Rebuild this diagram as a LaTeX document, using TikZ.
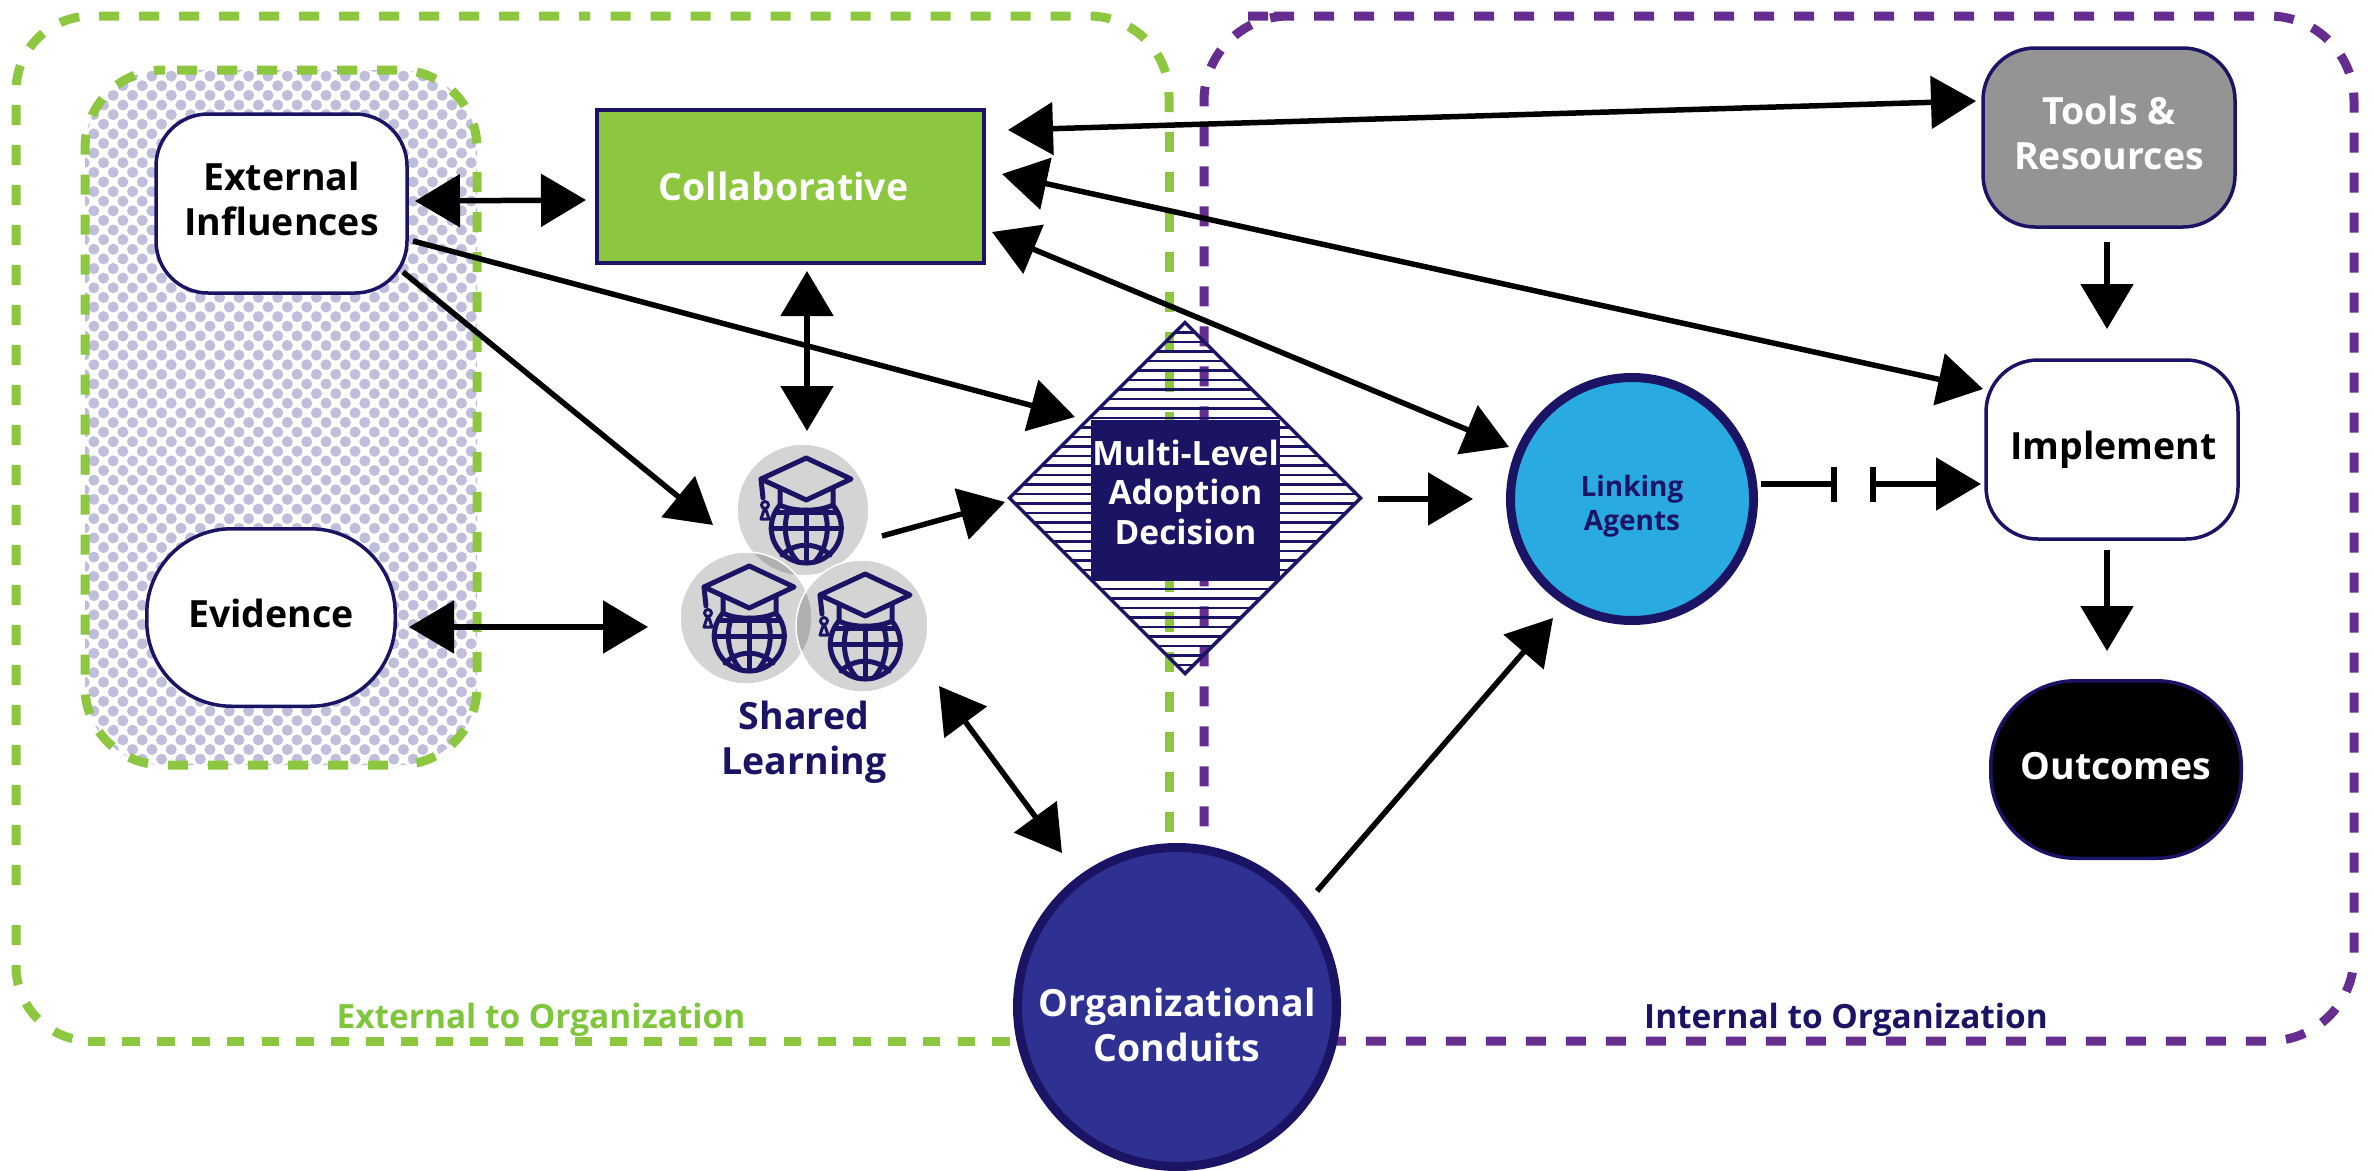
\documentclass[tikz,border=0pt]{standalone}
\usepackage{fontspec}
\setmainfont{Open Sans}
\usetikzlibrary{arrows.meta,calc,shapes.geometric}
\definecolor{navy}{HTML}{1B1464}
\definecolor{grn}{HTML}{8DC63F}
\definecolor{lbl}{HTML}{80C63C}
\definecolor{purp}{HTML}{662D91}
\definecolor{dot}{HTML}{BFBEDB}
\definecolor{orgblue}{HTML}{2E3192}
\definecolor{linkblue}{HTML}{29ABE2}
\newcommand{\liftup}[1]{\rule[-#1pt]{0pt}{#1pt}}
\tikzset{
  fs/.style={font=\fontsize{#1}{45}\selectfont\bfseries},
  roundbox/.style={draw=navy,line width=3.5pt,rounded corners=52pt,inner sep=0pt,outer sep=0pt,minimum width=#1,align=center,fs=37.5},
  zone/.style={line width=9pt,dash pattern=on 20pt off 20pt},
  arr/.style={line width=5.5pt,-{Triangle[length=45pt,width=52pt]}},
  dbl/.style={line width=5.5pt,{Triangle[length=45pt,width=52pt]}-{Triangle[length=45pt,width=52pt]}},
  teeline/.style={line width=5.5pt,-{Bar[width=35pt,line width=6pt]}},
  teearr/.style={line width=5.5pt,{Bar[width=35pt,line width=6pt]}-{Triangle[length=45pt,width=52pt]}},
  gcircle/.style={circle,fill=black,fill opacity=.17,draw=white,line width=1.5pt,inner sep=0pt,outer sep=0pt,minimum size=132pt},
  pics/gradcap/.style={code={
    \begin{scope}[draw=navy,line width=5pt,line join=round,line cap=round]
      \draw (3.3,-52) -- (48,-31) -- (3.3,-10) -- (-42,-31) -- cycle;
      \draw (-42,-31) -- (-40,-12);
      \draw (-23,-22) -- (-23,-5) .. controls (-10,2) and (16,2) .. (30,-5) -- (30,-22);
      \draw (3.3,18) ++(-41:35) arc[start angle=-41,end angle=221,radius=35];
      \draw (-27,2) -- (33,2);
      \draw (-32,18) -- (38.6,18);
      \draw (3.3,0) -- (3.3,53);
      \draw (-14,-1) .. controls (-21,15) and (-18,38) .. (-5,52);
      \draw (20.6,-1) .. controls (27.6,15) and (24.6,38) .. (11.6,52);
      \draw (-21,45) .. controls (-8,32) and (14,32) .. (27,45);
      \draw[line width=3pt] (-38,-5) circle[radius=3.5];
      \draw[line width=3pt] (-39,0) -- (-42,9) -- (-34,9) -- (-37,0);
    \end{scope}
  }}
}
\begin{document}
\begin{tikzpicture}[x=1pt,y=-1pt]
\useasboundingbox (0,0) rectangle (2374,1170);
% stippled panel
\begin{scope}
  \clip[rounded corners=78pt] (85,70) rectangle (477,765);
  \fill[white] (85,70) rectangle (477,765);
  \foreach \r in {0,...,73}{
    \pgfmathsetmacro{\yy}{66.5+\r*9.62}
    \pgfmathsetmacro{\xo}{isodd(\r) ? 74.5 : 84.2}
    \fill[dot] \foreach \c in {0,...,21}{ ({\xo+\c*19.35},\yy) circle[radius=5.5] };
  }
\end{scope}
\draw[zone,grn,rounded corners=78pt] (177,70) -- (477,70) -- (477,160);
\draw[zone,grn,rounded corners=78pt] (477,172) -- (477,765) -- (400,765);
\draw[zone,grn,rounded corners=78pt] (388,765) -- (85,765) -- (85,70) -- (165,70);
% organisation zones
\draw[zone,purp,rounded corners=85pt] (1333,16) -- (1204,16) -- (1204,1041) -- (2354,1041) -- (2354,16) -- cycle;
\draw[zone,grn] (1169,132) -- (1169,900);
\draw[zone,grn,rounded corners=80pt] (1169,112) -- (1169,16) -- (600,16);
\draw[zone,grn,rounded corners=75pt] (16,885) -- (16,16) -- (590,16);
\draw[zone,grn,rounded corners=75pt] (16,925) -- (16,1041) -- (91,1041);
\draw[line width=9pt,grn,dash pattern=on 17.6pt off 17.2pt] (87.5,1041) -- (1040,1041);
% diamond stripes
\begin{scope}
  \clip (1185,322.5) -- (1360.5,498) -- (1185,673.5) -- (1009.5,498) -- cycle;
  \foreach \r in {0,...,37}{
    \draw[navy,line width=2.6pt] (1000,{323+\r*9.5}) -- (1370,{323+\r*9.5});
  }
\end{scope}
\node[diamond,aspect=1,draw=navy,line width=3.5pt,inner sep=0pt,outer sep=0pt,minimum width=351pt,minimum height=351pt] (dia) at (1185,498) {};
\node[fill=navy,text=white,inner sep=0pt,outer sep=0pt,minimum width=189pt,minimum height=158pt,align=center,font=\fontsize{33.5}{39.5}\selectfont\bfseries] (dec) at (1185.5,499) {Multi-Level\\Adoption\\Decision\liftup{14}};
% boxes
\node[roundbox=251pt,fill=white,minimum height=179pt,text=black] (ext) at (281.5,203.5) {External\\Influences\liftup{9}};
\node[roundbox=248.5pt,fill=white,minimum height=177.5pt,rounded corners=85pt,text=black] (ev) at (271,617.5) {Evidence\liftup{9}};
\node[draw=navy,line width=3.5pt,fill=grn,inner sep=0pt,outer sep=0pt,minimum width=387pt,minimum height=153pt,text=white,fs=37.5] (col) at (790.5,186.5) {Collaborative\hspace*{14pt}};
\node[roundbox=252pt,fill=black!42,minimum height=179pt,text=white] (tools) at (2109,137.5) {Tools \&\\Resources\liftup{9}};
\node[roundbox=252pt,fill=white,minimum height=179pt,text=black] (impl) at (2112,449.5) {\hspace*{3pt}Implement};
\node[roundbox=250.5pt,fill=black,minimum height=177.5pt,rounded corners=85pt,text=white] (out) at (2116,769.5) {Outcomes\liftup{8}};
\node[circle,draw=navy,line width=9pt,fill=linkblue,inner sep=0pt,outer sep=0pt,minimum size=243pt,text=navy,align=center,font=\fontsize{28}{34}\selectfont\bfseries] (link) at (1632,499) {\rule{0pt}{36pt}Linking\\Agents};
\node[circle,draw=navy,line width=9pt,fill=orgblue,inner sep=0pt,outer sep=0pt,minimum size=319pt] (org) at (1177,1007) {};
\node[text=white,align=center,fs=37.5,inner sep=0pt] (orgt) at (1177,1025) {Organizational\\Conduits};
% shared learning
\node[gcircle] (s1) at (803,510) {};
\node[gcircle] (s2) at (746,618) {};
\node[gcircle] (s3) at (862,626) {};
\pic at (s1.center) {gradcap};
\pic at (s2.center) {gradcap};
\pic at (s3.center) {gradcap};
\node[text=navy,align=center,fs=37.5,inner sep=0pt] (sl) at (804,742) {Shared\\Learning};
% zone labels
\node[text=lbl,fs=33.4,inner sep=0pt] (exl) at (541,1020) {External to Organization};
\node[text=navy,fs=33.4,inner sep=0pt] (inl) at (1846,1020) {Internal to Organization};
% connectors
\draw[dbl] ($(ext.east)+(8,-2.5)$) -- ($(col.west)+(-11,13.5)$);
\draw[dbl] ($(col.east)+(24,-56.5)$) -- ($(tools.west)+(-7,-36.5)$);
\draw[dbl] ($(col.east)+(18,-12.5)$) -- ($(impl.west)+(-3,-60.5)$);
\draw[dbl] ($(col.east)+(8,45.5)$) -- ($(link.center)+(-123,-52)$);
\draw[dbl] ($(col.south)+(16.5,8)$) -- ($(s1.north)+(4,-13)$);
\draw[arr] ($(ext.east)+(6,37.5)$) -- ($(dia.center)+(-110,-81)$);
\draw[arr] ($(ext.center)+(121.5,68.5)$) -- ($(s1.center)+(-90,15)$);
\draw[arr] ($(s1.center)+(79,26)$) -- ($(dia.center)+(-180,4)$);
\draw[dbl] ($(ev.east)+(13.8,9.5)$) -- ($(s2.west)+(-32,9)$);
\draw[dbl] ($(s3.center)+(77,60)$) -- ($(org.center)+(-115,-154)$);
\draw[arr] ($(dia.center)+(193,1)$) -- ($(link.center)+(-159,0)$);
\draw[arr] ($(org.center)+(140,-116)$) -- ($(link.center)+(-79,119)$);
\coordinate (h1) at (1837,484);
\coordinate (h2) at (1870,484);
\draw[teeline] ($(link.center)+(129,-15)$) -- (h1);
\draw[teearr] (h2) -- ($(impl.west)+(-5,34.5)$);
\draw[arr] ($(tools.south)+(-2,15)$) -- ($(impl.north)+(-5,-31)$);
\draw[arr] ($(impl.south)+(-5,11)$) -- ($(out.north)+(-9,-29.75)$);
\end{tikzpicture}
\end{document}
